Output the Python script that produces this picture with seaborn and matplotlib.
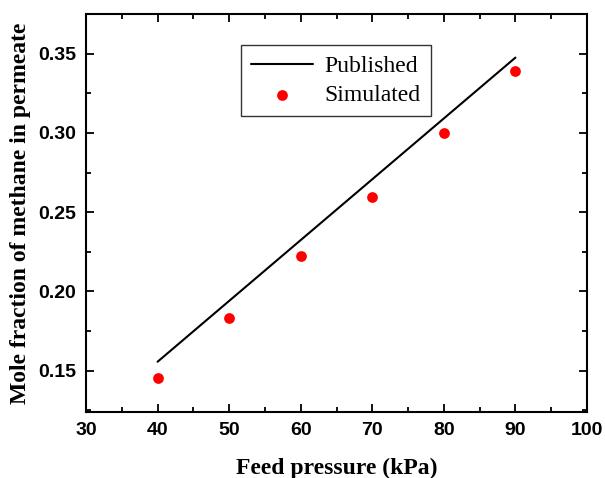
import matplotlib
matplotlib.use("Agg")
import matplotlib.pyplot as plt
import seaborn as sns
import numpy as np
import pandas as pd
from matplotlib.ticker import MultipleLocator

pressure_line = [40, 90]
published = [0.1557, 0.3475]
pressure_sim = [40, 50, 60, 70, 80, 90]
simulated = [0.1456, 0.1834, 0.2226, 0.2598, 0.300, 0.339]

sns.set_theme(style="ticks")
plt.rcParams['font.family'] = ['Liberation Sans', 'DejaVu Sans']
plt.rcParams['text.color'] = 'black'
plt.rcParams['axes.labelcolor'] = 'black'

fig = plt.figure(figsize=(6.05, 4.78), dpi=100)
ax = fig.add_axes([86/605, 1-412/478, 501/605, 398/478])

df_line = pd.DataFrame({"x": pressure_line, "y": published})
df_sim = pd.DataFrame({"x": pressure_sim, "y": simulated})
sns.lineplot(data=df_line, x="x", y="y", ax=ax, color="black", lw=1.5, label="Published")
sns.scatterplot(data=df_sim, x="x", y="y", ax=ax, color="red", s=60, edgecolor="red", linewidth=0, label="Simulated")

ax.set_xlim(30, 100)
ax.set_ylim(0.124, 0.375)
ax.xaxis.set_major_locator(MultipleLocator(10))
ax.xaxis.set_minor_locator(MultipleLocator(5))
ax.yaxis.set_minor_locator(MultipleLocator(0.025))
ax.set_yticks([0.15, 0.20, 0.25, 0.30, 0.35])
ax.set_yticklabels(["0.15", "0.20", "0.25", "0.30", "0.35"])
ax.tick_params(which="both", direction="in", top=True, right=True, width=1.3, colors="black")
ax.tick_params(which="major", length=6, labelsize=14, pad=7)
ax.tick_params(which="minor", length=3.5)
for lab in ax.get_xticklabels() + ax.get_yticklabels():
    lab.set_fontweight("bold")
for s in ax.spines.values():
    s.set_linewidth(1.5)
    s.set_color("black")

serif = ['Liberation Serif', 'DejaVu Serif']
ax.set_xlabel("Feed pressure (kPa)", fontsize=17, fontweight="bold", family=serif, labelpad=14, color="black")
ax.set_ylabel("Mole fraction of methane in permeate", fontsize=17, fontweight="bold", family=serif, labelpad=5, color="black")

leg = ax.legend(loc="upper left", bbox_to_anchor=(0.309, 0.922), prop={'family': serif, 'size': 17},
                frameon=True, fancybox=False, edgecolor="black", borderpad=0.45, handlelength=2.6,
                labelspacing=0.3, borderaxespad=0, handletextpad=0.5)
leg.get_frame().set_linewidth(1.0)
for t in leg.get_texts():
    t.set_color("black")

fig.savefig("out.png", dpi=100)
